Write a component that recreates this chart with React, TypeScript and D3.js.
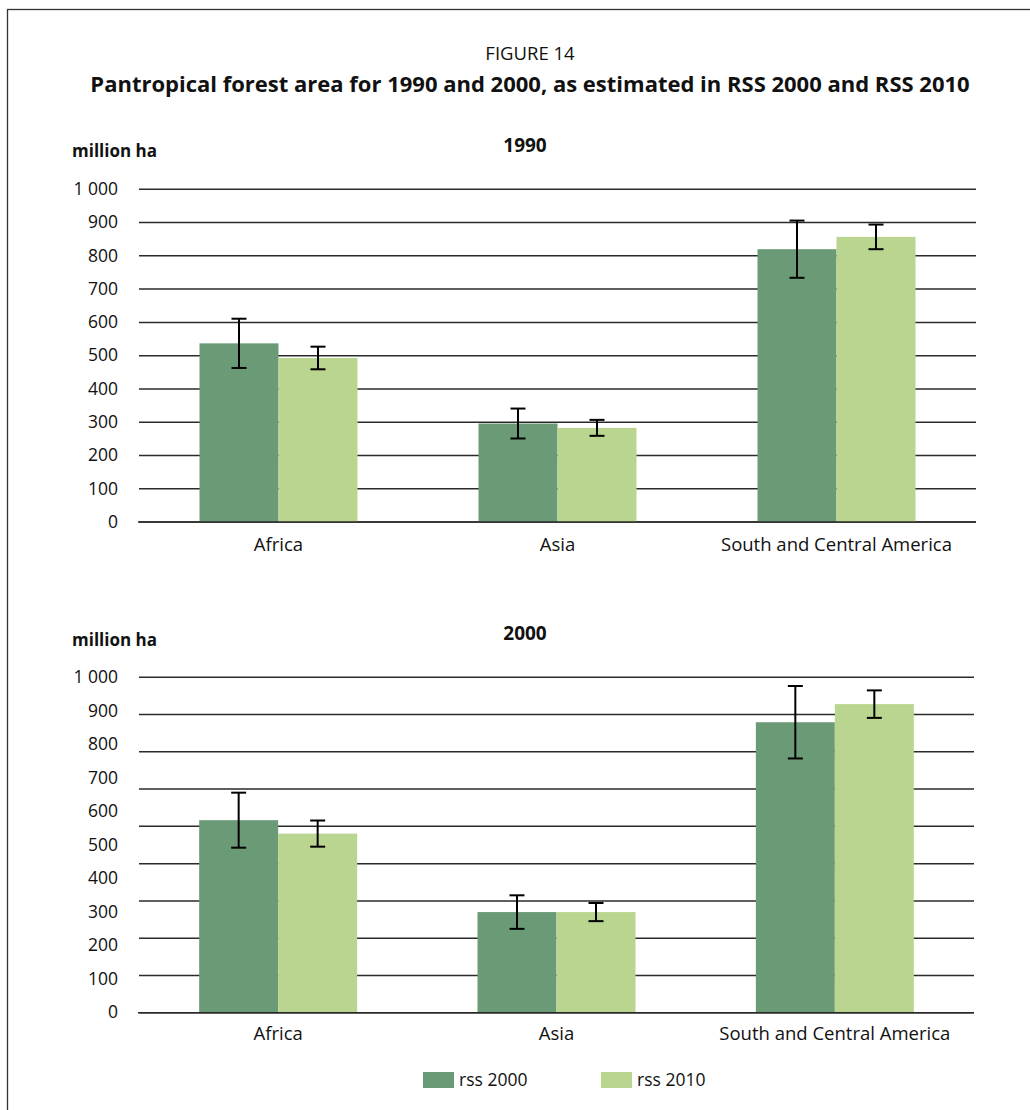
import React from "react";
import * as d3 from "d3";

const categories = ["Africa", "Asia", "South and Central America"];
const seriesNames = ["rss 2000", "rss 2010"];
const seriesColors = ["#6B9A77", "#BAD58F"];

// 1990 panel
const rss2000_1990 = [537, 296, 820];
const rss2000_1990_err = [74, 45, 86];
const rss2010_1990 = [493, 283, 857];
const rss2010_1990_err = [34, 24, 37];

// 2000 panel
const rss2000_2000 = [574, 300, 866];
const rss2000_2000_err = [82, 50, 108];
const rss2010_2000 = [534, 300, 920];
const rss2010_2000_err = [39, 27, 41];

const yTicks = [0, 100, 200, 300, 400, 500, 600, 700, 800, 900, 1000];
const yMax = 1000;

const FONT = "'Open Sans', 'Noto Sans', sans-serif";
const fmt = (v: number) => (v >= 1000 ? d3.format(",")(v).replace(/,/g, " ") : String(v));

type PanelProps = {
  title: string;
  titleY: number;
  unitY: number;
  x0: number;
  x1: number;
  yBase: number;
  yTop: number;
  gridCount: number;
  values: number[][];
  errors: number[][];
  catLabelY: number;
};

function Panel(p: PanelProps) {
  const x = d3.scaleBand<string>().domain(categories).range([p.x0, p.x1]);
  const y = d3.scaleLinear().domain([0, yMax]).range([p.yBase, p.yTop]);
  const barW = 79;
  const xs = d3.scaleBand<string>().domain(seriesNames).range([-barW, barW]);
  const grid = d3.range(p.gridCount).map((i) => (i * yMax) / (p.gridCount - 1));
  return (
    <g>
      <text x={525} y={p.titleY} textAnchor="middle" fontWeight="bold" fontSize={19} fontFamily={FONT} fill="#111">
        {p.title}
      </text>
      <text x={72} y={p.unitY} fontWeight="bold" fontSize={17} fontFamily={FONT} fill="#111">
        million ha
      </text>
      {grid.map((g, i) => (
        <line key={"g" + i} x1={p.x0} x2={p.x1} y1={y(g)} y2={y(g)} stroke="#2a2a2a" strokeWidth={1.5} />
      ))}
      {yTicks.map((t) => (
        <text key={"t" + t} x={118} y={y(t)} dy="0.33em" textAnchor="end" fontSize={17.5} fontFamily={FONT} fill="#111">
          {fmt(t)}
        </text>
      ))}
      {categories.map((c, ci) => {
        const cx = (x(c) as number) + x.bandwidth() / 2;
        return (
          <g key={c}>
            {seriesNames.map((s, si) => {
              const v = p.values[si][ci];
              const e = p.errors[si][ci];
              const bx = cx + (xs(s) as number);
              const mx = bx + xs.bandwidth() / 2;
              return (
                <g key={s}>
                  <rect x={bx} y={y(v)} width={xs.bandwidth()} height={p.yBase - y(v)} fill={seriesColors[si]} />
                  <line x1={mx} x2={mx} y1={y(v + e)} y2={y(v - e)} stroke="#000" strokeWidth={2} />
                  <line x1={mx - 7.5} x2={mx + 7.5} y1={y(v + e)} y2={y(v + e)} stroke="#000" strokeWidth={2} />
                  <line x1={mx - 7.5} x2={mx + 7.5} y1={y(v - e)} y2={y(v - e)} stroke="#000" strokeWidth={2} />
                </g>
              );
            })}
            <text x={cx} y={p.catLabelY} textAnchor="middle" fontSize={18.5} fontFamily={FONT} fill="#111">
              {c}
            </text>
          </g>
        );
      })}
      <line x1={p.x0 - 1} x2={p.x1} y1={p.yBase} y2={p.yBase} stroke="#2a2a2a" strokeWidth={1.5} />
    </g>
  );
}

export default function App() {
  return (
    <svg
      width={1030}
      height={1110}
      style={{ position: "absolute", left: 0, top: 0, background: "#fff" }}
    >
      <rect x={7.5} y={9.5} width={1100} height={1200} fill="#fff" stroke="#333" strokeWidth={1.3} />
      <text x={530} y={60} textAnchor="middle" fontSize={18.5} fontFamily={FONT} fill="#111">
        FIGURE 14
      </text>
      <text x={530} y={91.5} textAnchor="middle" fontWeight="bold" fontSize={22} fontFamily={FONT} fill="#111">
        Pantropical forest area for 1990 and 2000, as estimated in RSS 2000 and RSS 2010
      </text>
      <Panel
        title="1990"
        titleY={151.5}
        unitY={157}
        x0={139}
        x1={976}
        yBase={522}
        yTop={189.3}
        gridCount={11}
        values={[rss2000_1990, rss2010_1990]}
        errors={[rss2000_1990_err, rss2010_1990_err]}
        catLabelY={551}
      />
      <Panel
        title="2000"
        titleY={640}
        unitY={646}
        x0={139}
        x1={974}
        yBase={1012.7}
        yTop={677.3}
        gridCount={10}
        values={[rss2000_2000, rss2010_2000]}
        errors={[rss2000_2000_err, rss2010_2000_err]}
        catLabelY={1039.5}
      />
      {seriesNames.map((s, i) => (
        <g key={s} transform={`translate(${[423, 601][i]},1072)`}>
          <rect width={31} height={16} fill={seriesColors[i]} />
          <text x={36} y={14} fontSize={17.5} fontFamily={FONT} fill="#111">
            {s}
          </text>
        </g>
      ))}
    </svg>
  );
}
